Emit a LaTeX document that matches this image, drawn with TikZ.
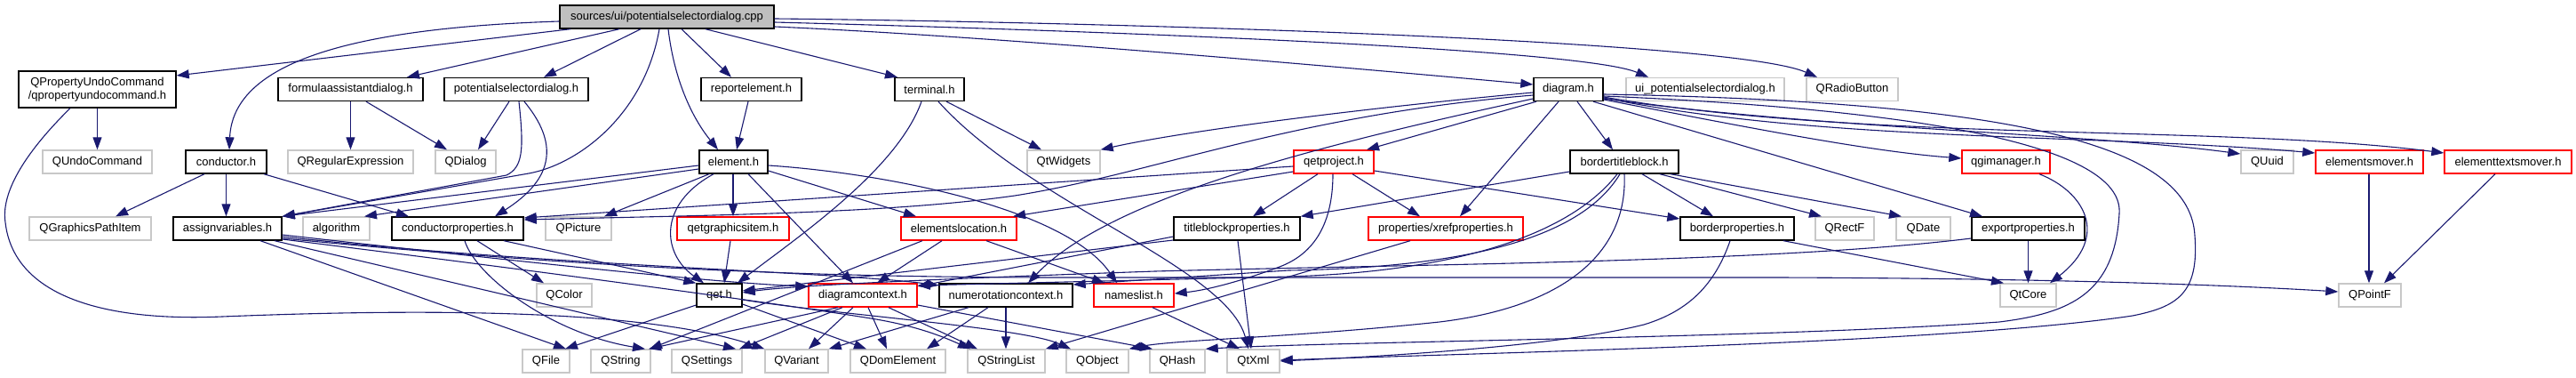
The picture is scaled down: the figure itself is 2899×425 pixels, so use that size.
\documentclass[tikz,border=0pt]{standalone}
\usepackage{fontspec}
\setmainfont{Liberation Sans}
\usetikzlibrary{arrows.meta}
\definecolor{edgeblue}{HTML}{191970}
\definecolor{rootgray}{HTML}{BFBFBF}
\definecolor{lightborder}{HTML}{C8C8C8}
\definecolor{redborder}{HTML}{FF0000}
\tikzset{
  box/.style={rectangle, inner sep=0pt, minimum height=26pt, fill=white, line width=1.4pt,
              font=\fontsize{13pt}{15pt}\selectfont, text=black},
  nb/.style={box, draw=black},
  ng/.style={box, draw=lightborder},
  nr/.style={box, draw=redborder},
  e/.style={draw=edgeblue, line width=1.1pt, -{Triangle[length=14pt,width=10pt]}}
}
\begin{document}
\begin{tikzpicture}[x=1pt,y=-1pt]
\useasboundingbox (0,0) rectangle (2899,425);
% row 1
\node[nb,fill=rootgray,minimum width=241pt] (root) at (750.5,19) {sources/ui/potentialselectordialog.cpp};
% row 2
\node[nb,minimum width=177pt,minimum height=41pt,align=center] (qpuc) at (109.5,100.5) {QPropertyUndoCommand\\/qpropertyundocommand.h};
\node[nb,minimum width=163pt] (formula) at (394.5,100.5) {formulaassistantdialog.h};
\node[nb,minimum width=162pt] (potsel) at (581,100.5) {potentialselectordialog.h};
\node[nb,minimum width=113pt] (report) at (845.5,100.5) {reportelement.h};
\node[nb,minimum width=78pt] (terminal) at (1046,100.5) {terminal.h};
\node[nb,minimum width=78pt] (diagram) at (1765,100.5) {diagram.h};
\node[ng,minimum width=178pt] (ui) at (1919,100.5) {ui\_potentialselectordialog.h};
\node[ng,minimum width=103pt] (radio) at (2084.5,100.5) {QRadioButton};
% row 3
\node[ng,minimum width=123pt] (undo) at (109.5,182) {QUndoCommand};
\node[nb,minimum width=91pt] (conductor) at (254.5,182) {conductor.h};
\node[ng,minimum width=141pt] (regexp) at (394.5,182) {QRegularExpression};
\node[ng,minimum width=68pt] (qdialog) at (524,182) {QDialog};
\node[nb,minimum width=77pt] (element) at (825.5,182) {element.h};
\node[ng,minimum width=82pt] (qtwidgets) at (1197,182) {QtWidgets};
\node[nr,minimum width=90pt] (qetproject) at (1501,182) {qetproject.h};
\node[nb,minimum width=122pt] (btb) at (1828,182) {bordertitleblock.h};
\node[nr,minimum width=99pt] (qgi) at (2257.5,182) {qgimanager.h};
\node[ng,minimum width=59pt] (quuid) at (2551.5,182) {QUuid};
\node[nr,minimum width=121pt] (emover) at (2666.5,182) {elementsmover.h};
\node[nr,minimum width=143pt] (etmover) at (2822.5,182) {elementtextsmover.h};
% row 4
\node[ng,minimum width=137pt] (gpath) at (101.5,257) {QGraphicsPathItem};
\node[nb,minimum width=122pt] (av) at (256,257) {assignvariables.h};
\node[ng,minimum width=75pt] (algo) at (378.5,257) {algorithm};
\node[nb,minimum width=148pt] (cprops) at (515,257) {conductorproperties.h};
\node[ng,minimum width=74pt] (qpicture) at (651,257) {QPicture};
\node[nr,minimum width=126pt] (qgitem) at (825,257) {qetgraphicsitem.h};
\node[nr,minimum width=130pt] (eloc) at (1079,257) {elementslocation.h};
\node[nb,minimum width=142pt] (tbp) at (1392,257) {titleblockproperties.h};
\node[nr,minimum width=174pt] (xref) at (1627,257) {properties/xrefproperties.h};
\node[nb,minimum width=128pt] (bprops) at (1955,257) {borderproperties.h};
\node[ng,minimum width=66pt] (qrectf) at (2076,257) {QRectF};
\node[ng,minimum width=61pt] (qdate) at (2164.5,257) {QDate};
\node[nb,minimum width=127pt] (eprops) at (2282.5,257) {exportproperties.h};
% row 5
\node[ng,minimum width=62pt] (qcolor) at (635,332) {QColor};
\node[nb,minimum width=51pt] (qet) at (809.5,332) {qet.h};
\node[nr,minimum width=122pt] (dctx) at (971,332) {diagramcontext.h};
\node[nb,minimum width=150pt] (nctx) at (1132,332) {numerotationcontext.h};
\node[nr,minimum width=90pt] (nlist) at (1276,332) {nameslist.h};
\node[ng,minimum width=63pt] (qtcore) at (2282.5,332) {QtCore};
\node[ng,minimum width=70pt] (qpointf) at (2667,332) {QPointF};
% row 6
\node[ng,minimum width=53pt] (qfile) at (614.5,406) {QFile};
\node[ng,minimum width=67pt] (qstring) at (698.5,406) {QString};
\node[ng,minimum width=79pt] (qsettings) at (795.5,406) {QSettings};
\node[ng,minimum width=71pt] (qvariant) at (896.5,406) {QVariant};
\node[ng,minimum width=107pt] (qdom) at (1010.5,406) {QDomElement};
\node[ng,minimum width=87pt] (qslist) at (1132.5,406) {QStringList};
\node[ng,minimum width=70pt] (qobject) at (1235,406) {QObject};
\node[ng,minimum width=62pt] (qhash) at (1325,406) {QHash};
\node[ng,minimum width=59pt] (qtxml) at (1410.5,406) {QtXml};
% ---- edges: root
\draw[e] (root.south -| 642,0) -- (qpuc.east |- 0,85);
\draw[e] (root.south -| 697,0) -- (formula.north -| 458,0);
\draw[e] (root.south -| 721,0) -- (potsel.north -| 612,0);
\draw[e] (root.west |- 0,24) .. controls (380,32) and (262,75) .. (conductor.north -| 258,0);
\draw[e] (root.south -| 742,0) .. controls (725,130) and (650,185) .. (595,195) -- (av.north east);
\draw[e] (root.south -| 752,0) .. controls (760,100) and (785,140) .. (element.north -| 808,0);
\draw[e] (root.south -| 767,0) -- (report.north -| 823,0);
\draw[e] (root.south -| 794,0) -- (terminal.north -| 1010,0);
\draw[e] (root.east |- 0,30) .. controls (1100,40) and (1450,70) .. (diagram.west |- 0,95);
\draw[e] (root.east |- 0,25) .. controls (1250,35) and (1780,55) .. (ui.north -| 1855,0);
\draw[e] (root.east |- 0,21) .. controls (1250,25) and (1950,45) .. (radio.north -| 2045,0);
% qpuc
\draw[e] (qpuc.south) -- (undo.north);
\draw[e] (qpuc.south -| 79,0) .. controls (40,160) and (0,210) .. (6,250) .. controls (15,330) and (110,362) .. (250,356) .. controls (450,348) and (720,345) .. (qvariant.north west);
% formula, potsel, report
\draw[e] (formula.south) -- (regexp.north);
\draw[e] (formula.south -| 412,0) -- (qdialog.north -| 503,0);
\draw[e] (potsel.south -| 573,0) -- (qdialog.north -| 538,0);
\draw[e] (potsel.south -| 584,0) .. controls (590,170) and (588,188) .. (570,197) -- (av.north east);
\draw[e] (potsel.south -| 590,0) .. controls (628,160) and (625,200) .. (cprops.north -| 557,0);
\draw[e] (report.south -| 842,0) -- (element.north -| 829,0);
% conductor
\draw[e] (conductor.south -| 230,0) -- (gpath.north -| 130,0);
\draw[e] (conductor.south -| 254.5,0) -- (av.north -| 254.5,0);
\draw[e] (conductor.south -| 297,0) -- (cprops.north -| 460,0);
% element
\draw[e] (element.west |- 0,186) -- (av.north east);
\draw[e] (element.west |- 0,190) -- (algo.north -| 410,0);
\draw[e] (element.south -| 798,0) -- (qpicture.north -| 680,0);
\draw[e] (element.south -| 825,0) -- (qgitem.north -| 825,0);
\draw[e] (element.south -| 803,0) .. controls (740,230) and (745,285) .. (qet.north -| 792,0);
\draw[e] (element.south -| 842,0) -- (dctx.north -| 960,0);
\draw[e] (element.east |- 0,192) -- (eloc.north -| 1031,0);
\draw[e] (element.east |- 0,186) .. controls (1000,195) and (1200,235) .. (nlist.north -| 1257,0);
% terminal
\draw[e] (terminal.south -| 1065,0) -- (qtwidgets.north -| 1172,0);
\draw[e] (terminal.south -| 1037,0) .. controls (1010,190) and (900,265) .. (qet.north -| 830,0);
\draw[e] (terminal.south -| 1056,0) .. controls (1160,230) and (1380,300) .. (qtxml.north -| 1405,0);
% diagram
\draw[e] (diagram.west |- 0,104) .. controls (1500,125) and (1320,150) .. (qtwidgets.north east);
\draw[e] (diagram.west |- 0,107) .. controls (1450,130) and (1300,195) .. (1142,220) .. controls (1000,240) and (800,242) .. (cprops.east |- 0,247);
\draw[e] (diagram.west |- 0,111) .. controls (1500,160) and (1250,220) .. (nctx.north -| 1157,0);
\draw[e] (diagram.south -| 1729,0) -- (qetproject.north -| 1538,0);
\draw[e] (diagram.south -| 1754,0) -- (xref.north -| 1643,0);
\draw[e] (diagram.south -| 1775,0) -- (btb.north -| 1815,0);
\draw[e] (diagram.south -| 1793,0) -- (eprops.north -| 2231,0);
\draw[e] (diagram.east |- 0,112) .. controls (1950,140) and (2100,170) .. (qgi.west |- 0,178);
\draw[e] (diagram.east |- 0,111) .. controls (2050,145) and (2350,150) .. (quuid.west |- 0,173);
\draw[e] (diagram.east |- 0,110) .. controls (2050,160) and (2350,150) .. (emover.west |- 0,172);
\draw[e] (diagram.east |- 0,109) .. controls (2100,160) and (2500,140) .. (etmover.west |- 0,172);
\draw[e] (diagram.east |- 0,108) .. controls (2200,125) and (2390,170) .. (2385,240) .. controls (2380,330) and (2330,352) .. (2250,362) .. controls (2000,380) and (1500,384) .. (qhash.north east);
\draw[e] (diagram.east |- 0,106) .. controls (2300,115) and (2465,170) .. (2470,265) .. controls (2475,330) and (2450,345) .. (2400,355) .. controls (2200,385) and (1700,396) .. (qtxml.east |- 0,405);
% qetproject
\draw[e] (qetproject.west |- 0,187) -- (cprops.east |- 0,245);
\draw[e] (qetproject.west |- 0,193) -- (eloc.north -| 1140,0);
\draw[e] (qetproject.south -| 1483,0) -- (tbp.north -| 1410,0);
\draw[e] (qetproject.south -| 1500,0) .. controls (1500,250) and (1480,285) .. (1440,300) .. controls (1400,315) and (1360,326) .. (nlist.east |- 0,330);
\draw[e] (qetproject.south -| 1522,0) -- (xref.north -| 1598,0);
\draw[e] (qetproject.east |- 0,192) -- (bprops.west |- 0,246);
% bordertitleblock
\draw[e] (btb.west |- 0,193) -- (tbp.north east);
\draw[e] (btb.south -| 1848,0) -- (bprops.north -| 1928,0);
\draw[e] (btb.south -| 1868,0) -- (qrectf.north -| 2050,0);
\draw[e] (btb.south -| 1880,0) -- (qdate.north -| 2140,0);
\draw[e] (btb.south -| 1820,0) .. controls (1770,260) and (1650,305) .. (1450,311) -- (dctx.east |- 0,321);
\draw[e] (btb.south -| 1823,0) .. controls (1790,250) and (1700,300) .. (1450,304) -- (nctx.east |- 0,320);
\draw[e] (btb.south -| 1828,0) .. controls (1832,285) and (1760,345) .. (1620,362) .. controls (1450,380) and (1320,382) .. (qobject.north east);
% xref, titleblockproperties
\draw[e] (xref.south -| 1587,0) -- (qslist.north east);
\draw[e] (tbp.south -| 1393,0) -- (qtxml.north -| 1408,0);
\draw[e] (tbp.west |- 0,266) -- (dctx.east |- 0,322);
\draw[e] (tbp.west |- 0,270) -- (qet.east |- 0,327);
% borderproperties, exportproperties, qgimanager, movers
\draw[e] (bprops.south -| 2007,0) -- (qtcore.north -| 2255,0);
\draw[e] (bprops.south -| 1947,0) .. controls (1930,320) and (1900,350) .. (1850,365) .. controls (1750,390) and (1550,401) .. (qtxml.east |- 0,406);
\draw[e] (eprops.south) -- (qtcore.north);
\draw[e] (eprops.west |- 0,268) .. controls (2000,295) and (1600,297) .. (1300,305) .. controls (1100,312) and (900,320) .. (qet.east |- 0,329);
\draw[e] (qgi.south -| 2295,0) .. controls (2345,215) and (2375,265) .. (qtcore.north -| 2307,0);
\draw[e] (emover.south -| 2666,0) -- (qpointf.north -| 2666,0);
\draw[e] (etmover.south -| 2808,0) -- (qpointf.north -| 2683,0);
% assignvariables
\draw[e] (av.east |- 0,264) .. controls (550,290) and (800,318) .. (dctx.west |- 0,322);
\draw[e] (av.east |- 0,266) .. controls (600,298) and (950,306) .. (nctx.west |- 0,321);
\draw[e] (av.east |- 0,268) .. controls (650,300) and (900,312) .. (1200,312) -- (2000,312) .. controls (2300,313) and (2500,320) .. (qpointf.west |- 0,328);
\draw[e] (av.east |- 0,269) .. controls (650,310) and (900,345) .. (980,358) .. controls (1030,366) and (1060,378) .. (qslist.north -| 1092,0);
\draw[e] (av.south -| 293,0) -- (qfile.north -| 637,0);
\draw[e] (av.south -| 309,0) -- (qsettings.north -| 828,0);
% conductorproperties
\draw[e] (cprops.south -| 537,0) -- (qcolor.north -| 612,0);
\draw[e] (cprops.south -| 567,0) -- (qet.north west);
\draw[e] (cprops.south -| 523,0) .. controls (535,310) and (620,375) .. (qstring.north -| 726,0);
% qetgraphicsitem, qet
\draw[e] (qgitem.south -| 822,0) -- (qet.north -| 815,0);
\draw[e] (qet.west |- 0,343) -- (qfile.north -| 636,0);
\draw[e] (qet.east |- 0,342) -- (qdom.north -| 975,0);
\draw[e] (qet.east |- 0,337) .. controls (950,355) and (1150,368) .. (qobject.north -| 1205,0);
% diagramcontext
\draw[e] (dctx.south -| 943,0) -- (qstring.north -| 730,0);
\draw[e] (dctx.south -| 948,0) -- (qsettings.north -| 832,0);
\draw[e] (dctx.south -| 960,0) -- (qvariant.north -| 910,0);
\draw[e] (dctx.south -| 977,0) -- (qdom.north -| 998,0);
\draw[e] (dctx.south -| 1000,0) -- (qslist.north -| 1100,0);
\draw[e] (dctx.east |- 0,343) -- (qhash.north -| 1297,0);
% numerotationcontext
\draw[e] (nctx.south -| 1112,0) -- (qdom.north -| 1043,0);
\draw[e] (nctx.south -| 1132,0) -- (qslist.north -| 1132,0);
\draw[e] (nctx.south -| 1090,0) -- (qvariant.north east);
% elementslocation, nameslist
\draw[e] (eloc.south -| 1038,0) -- (qstring.north -| 731,0);
\draw[e] (eloc.south -| 1060,0) -- (dctx.north -| 987,0);
\draw[e] (eloc.south -| 1110,0) -- (nlist.north -| 1243,0);
\draw[e] (nlist.south -| 1297,0) -- (qtxml.north -| 1395,0);
\end{tikzpicture}
\end{document}
